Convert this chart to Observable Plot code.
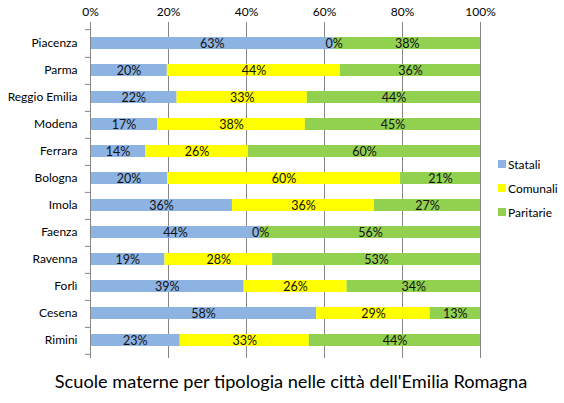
<!DOCTYPE html>
<html>
<head>
<meta charset="utf-8">
<script src="https://cdn.jsdelivr.net/npm/d3@7"></script>
<script src="https://cdn.jsdelivr.net/npm/@observablehq/plot@0.6"></script>
<style>
  body { margin: 0; background: #fff; font-family: Lato, sans-serif; }
  #wrap { position: relative; width: 564px; height: 403px; }
  #chart { position: absolute; left: 0; top: 0; }
  #title { position: absolute; left: 18px; width: 546px; top: 370px; text-align: center; font-size: 18.2px; color: #000; }
  #legend { position: absolute; left: 498px; top: 152px; font-size: 12px; color: #000; }
  #legend div { height: 24px; display: flex; align-items: center; }
  #legend span.sw { width: 8px; height: 8px; margin-right: 2px; display: inline-block; }
</style>
</head>
<body>
<div id="wrap">
  <div id="chart"></div>
  <div id="legend"></div>
  <div id="title">Scuole materne per tipologia nelle città dell'Emilia Romagna</div>
</div>
<script>
const cities = ['Piacenza', 'Parma', 'Reggio Emilia', 'Modena', 'Ferrara', 'Bologna', 'Imola', 'Faenza', 'Ravenna', 'Forlì', 'Cesena', 'Rimini']
const series = ['Statali', 'Comunali', 'Paritarie']
const colors = ['#8db3e2', '#ffff00', '#92d050']
const statali = [62.5, 19.7, 22.2, 17.2, 14.1, 19.8, 36.4, 43.6, 19.1, 39.4, 58.0, 23.0]
const comunali = [0, 44.4, 33.4, 37.9, 26.4, 59.7, 36.4, 0, 27.6, 26.4, 29.1, 33.1]
const paritarie = [37.5, 35.9, 44.4, 44.9, 59.5, 20.5, 27.2, 56.4, 53.3, 34.2, 12.9, 43.9]
const xTicks = [0, 20, 40, 60, 80, 100]

const cols = [statali, comunali, paritarie]
let rows = []
cities.forEach((c, i) => {
  series.forEach((s, j) => rows.push({ city: c, type: s, value: cols[j][i] }))
})

const step = 333 / 12

const chart = Plot.plot({
  width: 564,
  height: 362,
  marginLeft: 90,
  marginRight: 84,
  marginTop: 25,
  marginBottom: 4,
  style: { fontFamily: 'Lato, sans-serif', fontSize: '12px', color: '#000' },
  x: { domain: [0, 100] },
  y: { domain: cities, paddingInner: 0.57, paddingOuter: 0.285 },
  color: { domain: series, range: colors },
  marks: [
    Plot.ruleX(xTicks.slice(1), { stroke: '#868686', insetTop: -3 }),
    Plot.barX(rows, { x: 'value', y: 'city', fill: 'type', order: series }),
    Plot.ruleX([0], { stroke: '#868686', insetTop: -3 }),
    Plot.ruleY(cities, { y: d => d, dy: step / 2, x1: -1.3, x2: 0, stroke: '#868686' }),
    Plot.ruleY(cities.slice(0, 1), { y: d => d, dy: -step / 2, x1: -1.3, x2: 0, stroke: '#868686' }),
    Plot.text(rows, Plot.stackX({
      x: 'value', y: 'city', z: 'type', order: series,
      text: d => Math.round(d.value) + '%',
      fill: '#111', fontSize: 12.5
    })),
    Plot.axisX({ anchor: 'top', ticks: xTicks, tickSize: 0, tickPadding: 10, tickFormat: d => d + '%', label: null, fontSize: 12 }),
    Plot.axisY({ tickSize: 0, tickPadding: 13, label: null, fontSize: 12 })
  ]
})
d3.select('#chart').append(() => chart)

const lg = d3.select('#legend').selectAll('div').data(series).join('div')
lg.append('span').attr('class', 'sw').style('background', (d, i) => colors[i])
lg.append('span').text(d => d)
</script>
</body>
</html>
